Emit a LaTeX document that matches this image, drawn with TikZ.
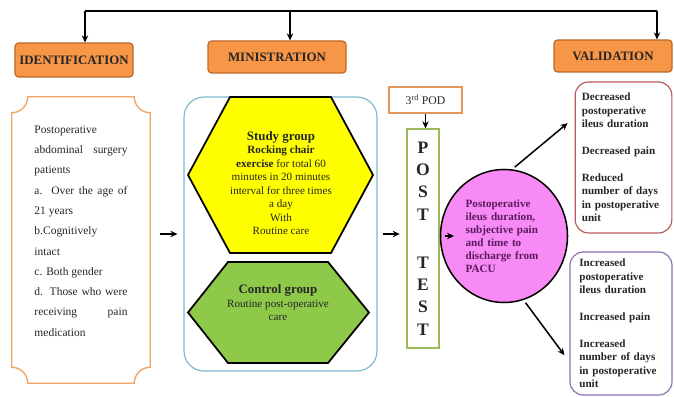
\documentclass[tikz,border=0pt]{standalone}
\usepackage{fontspec}
\setmainfont{Liberation Serif}
\usepackage{xcolor}
\usetikzlibrary{arrows.meta, positioning, shapes.geometric, calc}

\definecolor{headfill}{HTML}{F79646}
\definecolor{headdraw}{HTML}{B9682A}
\definecolor{plaqueline}{HTML}{F0A665}
\definecolor{groupline}{HTML}{7DB9CD}
\definecolor{studyfill}{HTML}{FFFF00}
\definecolor{controlfill}{HTML}{8FC94A}
\definecolor{podline}{HTML}{E2965A}
\definecolor{testline}{HTML}{9BBB59}
\definecolor{outfill}{HTML}{F78AF5}
\definecolor{outtext}{HTML}{5A1A5E}
\definecolor{betterline}{HTML}{B8595A}
\definecolor{worseline}{HTML}{8A72AE}

\begin{document}
\begin{tikzpicture}[
    x=0.03cm, y=0.03cm,
    every node/.style={font=\fontsize{9.5}{11.5}\selectfont, text=black!85},
    heading/.style={
        draw=headdraw,
        line width=1pt,
        fill=headfill,
        rounded corners=3pt,
        inner sep=0pt,
        font=\fontsize{11}{13}\selectfont\bfseries
    },
    flow/.style={
        -{Stealth[length=6pt,width=5.5pt]},
        line width=1.3pt
    },
    hexa/.style={
        draw=black,
        line width=1.5pt
    },
    result/.style={
        line width=1pt,
        rounded corners=0.4cm,
        align=left,
        text width=2.5cm,
        inner ysep=0pt,
        font=\fontsize{9.5}{11.5}\selectfont\bfseries
    }
]

\useasboundingbox (0,0) rectangle (674,397);

% ============================================================
% HEADINGS
% ============================================================

\node[
    heading,
    minimum width=3.54cm,
    minimum height=1.02cm
] (ident) at (74,337)
{IDENTIFICATION};

\node[
    heading,
    minimum width=4.14cm,
    minimum height=0.96cm
] (minis) at (277,340)
{MINISTRATION};

\node[
    heading,
    minimum width=3.54cm,
    minimum height=0.96cm
] (valid) at (613,341)
{VALIDATION};

\coordinate (topL) at (85,386);
\coordinate (topM) at (290,386);
\coordinate (topR) at (657,386);

\draw[line width=1.3pt] (topL) -- (topR);
\draw[flow] (topL) -- (topL |- ident.north);
\draw[flow] (topM) -- (topM |- minis.north);
\draw[flow] (topR) -- (topR |- valid.north);

% ============================================================
% IDENTIFICATION
% ============================================================

\node[
    minimum width=4.14cm,
    minimum height=8.58cm,
    inner sep=0pt
] (incl) at (81,157) {};

\draw[plaqueline, line width=1.2pt]
([xshift=0.48cm]incl.north west) --
([xshift=-0.48cm]incl.north east)
arc[start angle=180, end angle=270, radius=0.48cm] --
([yshift=0.48cm]incl.south east)
arc[start angle=90, end angle=180, radius=0.48cm] --
([xshift=0.48cm]incl.south west)
arc[start angle=0, end angle=90, radius=0.48cm] --
([yshift=-0.48cm]incl.north west)
arc[start angle=270, end angle=360, radius=0.48cm] -- cycle;

\node[
    text width=2.79cm,
    align=justify,
    inner sep=0pt,
    font=\fontsize{9.8}{17.3}\selectfont
] (incltext) at (81,166)
{
Postoperative\\
\makebox[2.79cm][s]{abdominal surgery}\\
patients\\
\makebox[2.79cm][s]{a. Over the age of}\\
21 years\\
b.Cognitively\\
intact\\
c. Both gender\\
\makebox[2.79cm][s]{d. Those who were}\\
\makebox[2.79cm][s]{receiving pain}\\
medication
};

% ============================================================
% MINISTRATION
% ============================================================

\node[
    draw=groupline,
    line width=1pt,
    rounded corners=0.6cm,
    minimum width=5.79cm,
    minimum height=8.22cm
] (groups) at (280.5,163) {};

% Study group
\draw[hexa, fill=studyfill]
(188,222) -- (230,300) -- (331,300) -- (373,222) -- (331,144) -- (230,144) -- cycle;

\node[
    align=center,
    inner sep=0pt
] (study) at (281,214)
{
{\fontsize{11}{13}\selectfont\bfseries Study group}\\
\textbf{Rocking chair}\\
\textbf{exercise} for total 60\\
minutes in 20 minutes\\
interval for three times\\
a day\\
With\\
Routine care
};

% Control group
\draw[hexa, fill=controlfill]
(188,84.5) -- (228,135) -- (328,135) -- (369,84.5) -- (328,34) -- (228,34) -- cycle;

\node[
    align=center,
    inner sep=0pt
] (control) at (278,94)
{
{\fontsize{11}{13}\selectfont\bfseries Control group}\\
Routine post-operative\\
care
};

\draw[flow, shorten <=0.3cm, shorten >=0.18cm]
(incl.east |- groups.west) -- (groups.west);

% ============================================================
% POST TEST
% ============================================================

\node[
    draw=podline,
    line width=1pt,
    minimum width=2.19cm,
    minimum height=0.78cm,
    inner sep=0pt,
    font=\fontsize{10}{12}\selectfont
] (pod) at (425.5,297)
{3\textsuperscript{rd} POD};

\node[
    draw=testline,
    line width=1pt,
    minimum width=0.96cm,
    minimum height=6.57cm,
    inner sep=0pt,
    align=center,
    font=\fontsize{15}{19}\selectfont\bfseries
] (posttest) at (423,158.5)
{P\\O\\S\\T\\[22pt]T\\E\\S\\T};

\draw[flow] (pod.south) -- (pod.south |- posttest.north);

\draw[flow, shorten <=0.15cm, shorten >=0.2cm]
(groups.east) -- (groups.east -| posttest.west);

% ============================================================
% OUTCOME
% ============================================================

\node[
    ellipse,
    draw=black,
    line width=1.3pt,
    fill=outfill,
    minimum width=3.81cm,
    minimum height=3.99cm,
    inner sep=0pt,
    text width=2.3cm,
    align=left,
    text=outtext,
    font=\fontsize{9.5}{11}\selectfont\bfseries
] (outcome) at (504,161)
{
Postoperative\\
ileus duration,\\
subjective pain\\
and time to\\
discharge from\\
PACU
};

\draw[flow, shorten <=0.15cm]
(posttest.east |- outcome.west) -- ([xshift=0.43cm]outcome.west);

% ============================================================
% VALIDATION
% ============================================================

\node[
    result,
    draw=betterline,
    inner xsep=0.2cm,
    minimum height=4.53cm
] (better) at (623.5,239.5)
{
Decreased\\
postoperative\\
ileus duration\\[11.5pt]
Decreased pain\\[11.5pt]
Reduced\\
number of days\\
in postoperative\\
unit
};

\node[
    result,
    draw=worseline,
    inner xsep=0.28cm,
    minimum height=4.29cm
] (worse) at (621,73.5)
{
Increased\\
postoperative\\
ileus duration\\[11.5pt]
Increased pain\\[11.5pt]
Increased\\
number of days\\
in postoperative\\
unit
};

\coordinate (betterin) at ([shift={(-0.21cm,1.03cm)}]better.west);
\coordinate (worsein) at ([shift={(-0.15cm,-0.95cm)}]worse.west);

\draw[flow, shorten <=0.1cm] (outcome.83) -- (betterin);
\draw[flow, shorten <=0.1cm] (outcome.-73) -- (worsein);

\end{tikzpicture}
\end{document}
